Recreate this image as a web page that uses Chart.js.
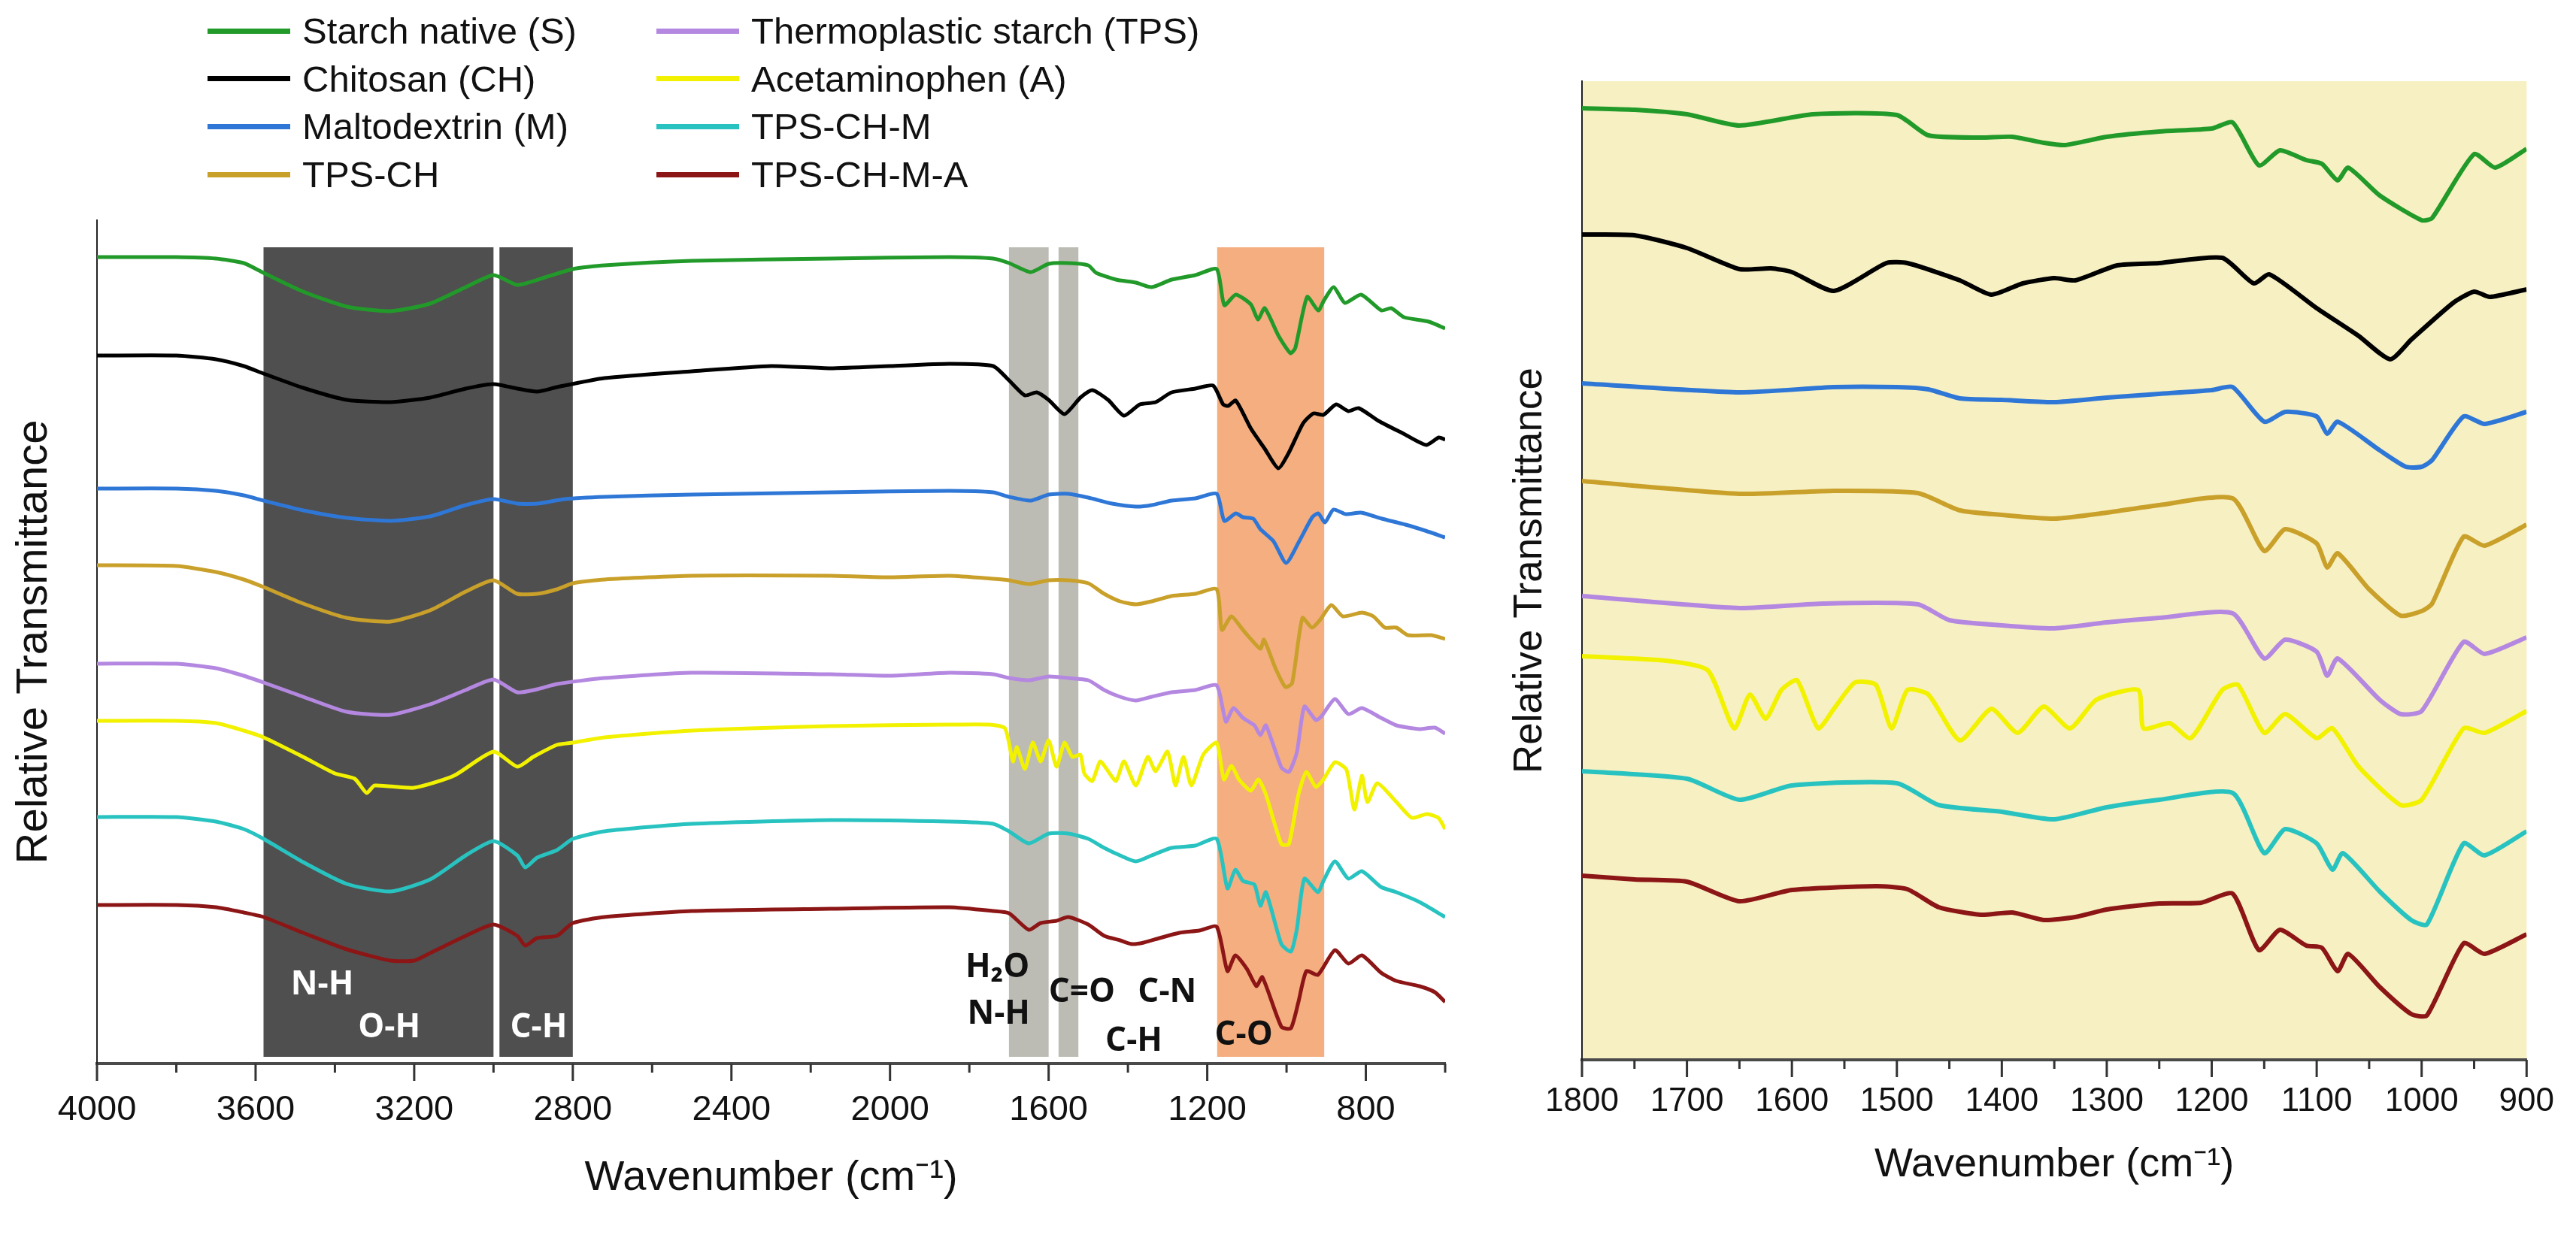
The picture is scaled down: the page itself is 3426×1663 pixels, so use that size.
<!DOCTYPE html>
<html>
<head>
<meta charset="utf-8">
<title>FTIR spectra</title>
<script src="https://cdn.jsdelivr.net/npm/chart.js@4.4.1/dist/chart.umd.min.js"></script>
<style>
  body { margin: 0; background: #fff; width: 3426px; height: 1663px; position: relative; overflow: hidden;
         font-family: "Liberation Sans", Arial, sans-serif; }
  #fullWrap { position: absolute; left: 0; top: 0; width: 1960px; height: 1663px; }
  #zoomWrap { position: absolute; left: 1960px; top: 0; width: 1466px; height: 1663px; }
  #legend { position: absolute; left: 0; top: 0; width: 1700px; height: 280px; }
  .item { position: absolute; height: 60px; display: flex; align-items: center; font-size: 49px; white-space: nowrap; color: #111; }
  .swatch { display: inline-block; width: 110px; height: 7px; margin-right: 16px; }
</style>
</head>
<body>
<div id="fullWrap"><canvas id="fullChart"></canvas></div>
<div id="zoomWrap"><canvas id="zoomChart"></canvas></div>
<div id="legend"></div>
<script>
// Series, in stacking order top -> bottom
const seriesNames = ['Starch native (S)', 'Chitosan (CH)', 'Maltodextrin (M)', 'TPS-CH',
  'Thermoplastic starch (TPS)', 'Acetaminophen (A)', 'TPS-CH-M', 'TPS-CH-M-A'];
const seriesColors = ['#229a2a', '#000000', '#2f77d6', '#c9a02a', '#b488e0', '#f2f200', '#28c3c0', '#8c1616'];

// Full range spectra [wavenumber, relative transmittance (offset)]
const fullS = [[4000,106.4],[3800,106.4],[3700,106.2],[3630,105.6],[3580,104.3],[3480,101.8],[3370,99.8],[3260,99.2],[3160,100.2],[3070,102.4],[3000,104.0],[2940,102.7],[2870,103.7],[2800,104.8],[2720,105.3],[2500,105.9],[2150,106.2],[1850,106.4],[1740,106.2],[1700,105.6],[1645,104.4],[1600,105.5],[1550,105.6],[1500,105.3],[1480,104.3],[1430,103.4],[1380,103.0],[1340,102.4],[1290,103.4],[1230,104.0],[1176,104.8],[1157,100.0],[1128,101.4],[1090,100.1],[1072,98.1],[1055,99.6],[1020,95.9],[990,93.6],[978,94.3],[948,101.1],[920,99.3],[906,100.6],[881,102.4],[853,100.3],[812,101.4],[761,99.3],[736,99.6],[704,98.4],[641,97.8],[600,96.9]];
const fullCH = [[4000,93.3],[3800,93.3],[3700,92.8],[3630,91.9],[3580,90.9],[3480,89.0],[3370,87.4],[3260,87.1],[3160,87.7],[3070,88.9],[3000,89.5],[2940,88.9],[2890,88.5],[2840,89.1],[2720,90.3],[2500,91.2],[2300,91.9],[2150,91.6],[2000,91.9],[1850,92.2],[1740,91.9],[1700,90.0],[1660,88.0],[1630,88.4],[1600,87.4],[1560,85.5],[1520,87.7],[1490,88.7],[1450,87.4],[1410,85.3],[1370,86.8],[1330,87.1],[1290,88.4],[1230,88.9],[1185,89.3],[1160,86.8],[1147,86.6],[1128,87.3],[1090,83.6],[1055,80.9],[1021,78.3],[995,80.3],[958,84.3],[932,85.6],[907,85.4],[875,86.8],[844,85.9],[818,86.3],[768,84.6],[705,82.9],[648,81.4],[616,82.4],[600,82.1]];
const fullM = [[4000,75.6],[3800,75.6],[3700,75.3],[3630,74.7],[3580,74.0],[3480,72.7],[3370,71.7],[3260,71.3],[3160,71.9],[3070,73.4],[3000,74.2],[2940,73.6],[2890,73.6],[2820,74.2],[2720,74.5],[2500,74.8],[2150,75.1],[1850,75.3],[1740,75.1],[1700,74.5],[1645,74.0],[1600,74.8],[1550,74.9],[1500,74.4],[1440,73.6],[1380,73.2],[1340,73.4],[1290,74.0],[1230,74.3],[1176,74.9],[1157,71.3],[1128,72.3],[1110,71.8],[1084,71.6],[1066,70.2],[1033,68.6],[1001,65.7],[968,68.6],[935,71.8],[920,72.3],[903,71.1],[882,72.8],[850,72.2],[812,72.4],[760,71.6],[700,70.8],[650,70.0],[600,69.1]];
const fullTC = [[4000,65.4],[3800,65.3],[3700,64.5],[3630,63.5],[3580,62.5],[3480,60.3],[3370,58.4],[3260,57.9],[3160,59.4],[3070,61.9],[3000,63.4],[2940,61.6],[2890,61.6],[2840,62.2],[2800,63.0],[2720,63.5],[2500,64.0],[2150,64.0],[2000,63.8],[1850,64.0],[1740,63.6],[1700,63.4],[1650,62.9],[1600,63.4],[1550,63.4],[1500,63.0],[1460,61.6],[1420,60.6],[1380,60.2],[1340,60.6],[1290,61.3],[1230,61.6],[1176,62.2],[1163,56.8],[1139,58.6],[1110,56.8],[1066,54.3],[1057,55.5],[1028,51.7],[1003,49.2],[986,49.7],[960,58.4],[936,57.1],[916,58.1],[887,60.1],[858,58.6],[810,59.1],[781,58.6],[752,57.1],[723,57.1],[694,56.1],[636,56.1],[600,55.6]];
const fullTPS = [[4000,52.3],[3800,52.3],[3700,51.7],[3630,50.7],[3580,49.8],[3480,47.9],[3370,45.9],[3260,45.5],[3160,46.9],[3070,48.8],[3000,50.2],[2940,48.5],[2890,48.9],[2840,49.6],[2720,50.4],[2500,51.1],[2150,50.9],[2000,50.7],[1850,51.1],[1740,50.9],[1700,50.4],[1650,50.1],[1600,50.6],[1550,50.4],[1500,50.1],[1460,48.8],[1420,47.9],[1380,47.4],[1340,47.9],[1290,48.5],[1230,48.8],[1176,49.4],[1153,44.6],[1134,46.4],[1110,45.1],[1081,44.1],[1066,42.8],[1052,44.1],[1013,38.5],[994,37.9],[974,40.5],[955,46.6],[926,44.8],[912,45.3],[878,47.6],[844,45.6],[810,46.4],[762,45.1],[723,44.1],[665,43.6],[626,43.8],[600,43.0]];
const fullA = [[4000,44.7],[3800,44.7],[3700,44.4],[3630,43.4],[3580,42.5],[3480,39.9],[3400,37.7],[3350,37.0],[3320,35.1],[3300,36.1],[3200,35.8],[3100,37.4],[3000,40.6],[2940,38.6],[2900,39.9],[2840,41.5],[2800,41.8],[2720,42.5],[2500,43.4],[2150,44.0],[1850,44.2],[1750,44.2],[1710,43.7],[1690,39.3],[1680,41.2],[1660,38.3],[1640,41.8],[1620,39.3],[1600,42.1],[1580,38.6],[1560,41.8],[1540,39.9],[1520,40.2],[1510,37.7],[1490,36.7],[1470,39.3],[1450,38.0],[1430,36.7],[1410,39.3],[1380,36.1],[1350,39.9],[1330,38.0],[1300,40.6],[1280,36.1],[1260,39.9],[1240,36.1],[1210,40.2],[1176,41.8],[1158,36.9],[1139,38.7],[1120,36.9],[1090,35.4],[1071,36.9],[1052,34.9],[1013,28.3],[994,28.3],[970,34.9],[950,37.9],[926,35.9],[907,36.9],[878,39.2],[849,38.2],[829,32.9],[810,37.4],[796,33.9],[771,36.4],[723,33.9],[684,31.8],[646,32.3],[617,31.8],[600,30.3]];
const fullTCM = [[4000,31.9],[3800,31.9],[3700,31.3],[3630,30.3],[3580,29.0],[3480,25.9],[3370,23.0],[3260,22.0],[3160,23.6],[3070,26.8],[3000,28.7],[2940,26.8],[2920,25.2],[2890,26.5],[2840,27.5],[2800,29.0],[2720,30.0],[2500,31.0],[2150,31.5],[1850,31.3],[1740,31.0],[1700,30.0],[1650,28.4],[1600,29.7],[1550,29.7],[1500,29.0],[1460,27.8],[1420,26.8],[1380,26.0],[1340,26.8],[1290,27.8],[1230,28.1],[1176,29.0],[1149,22.4],[1129,24.9],[1110,23.4],[1081,22.9],[1066,20.1],[1052,21.9],[1013,15.0],[989,14.0],[974,17.0],[955,23.7],[921,21.9],[907,23.4],[878,26.0],[844,23.7],[810,24.7],[762,22.6],[723,21.9],[665,20.6],[600,18.6]];
const fullTCMA = [[4000,20.2],[3800,20.2],[3700,19.9],[3630,19.2],[3580,18.6],[3480,16.5],[3370,14.3],[3260,12.8],[3200,12.8],[3160,13.8],[3070,16.1],[3000,17.6],[2940,16.1],[2920,14.8],[2890,15.8],[2840,16.1],[2800,17.8],[2720,18.6],[2500,19.4],[2150,19.7],[1850,19.9],[1740,19.4],[1700,19.1],[1650,16.9],[1620,17.8],[1580,18.1],[1550,18.6],[1500,17.6],[1460,16.1],[1420,15.5],[1390,15.0],[1360,15.2],[1320,15.8],[1270,16.5],[1220,16.8],[1176,17.3],[1149,11.4],[1129,13.5],[1100,11.7],[1076,9.4],[1061,10.6],[1013,4.0],[989,3.8],[970,7.3],[950,11.4],[921,10.9],[878,14.2],[844,12.4],[810,13.5],[762,11.2],[723,10.1],[665,9.4],[626,8.6],[600,7.3]];

// Fingerprint region 1800-900 cm-1
const zoomS = [[1800,125.9],[1750,125.7],[1700,125.1],[1650,123.6],[1580,125.1],[1500,125.0],[1470,122.3],[1420,122.0],[1390,122.1],[1360,121.3],[1340,121.0],[1300,122.1],[1250,122.8],[1200,123.2],[1180,124.0],[1155,118.3],[1135,120.3],[1110,119.0],[1095,118.5],[1080,116.3],[1070,118.0],[1040,114.3],[1000,111.0],[990,111.3],[950,119.8],[930,118.0],[900,120.5]];
const zoomCH = [[1800,109.1],[1750,109.0],[1700,107.3],[1650,104.5],[1620,104.6],[1600,104.1],[1560,101.6],[1510,105.3],[1490,105.3],[1440,103.0],[1410,101.1],[1380,102.6],[1350,103.3],[1330,103.0],[1290,105.0],[1250,105.3],[1190,106.0],[1160,102.6],[1145,103.8],[1100,99.3],[1060,95.6],[1030,92.5],[1010,95.1],[970,100.0],[950,101.5],[935,100.8],[900,101.8]];
const zoomM = [[1800,89.3],[1650,88.1],[1560,88.8],[1500,88.8],[1470,88.5],[1440,87.3],[1400,87.1],[1350,86.8],[1300,87.4],[1250,87.9],[1200,88.4],[1180,88.8],[1150,84.2],[1130,85.5],[1100,84.9],[1090,82.6],[1080,84.2],[1040,80.4],[1015,78.2],[1000,78.2],[990,79.1],[960,84.9],[940,83.9],[900,85.5]];
const zoomTC = [[1800,76.3],[1650,74.6],[1560,75.0],[1480,74.7],[1440,72.4],[1400,71.8],[1350,71.3],[1300,72.1],[1250,73.1],[1180,74.0],[1150,67.0],[1130,69.9],[1100,68.0],[1090,64.8],[1080,66.7],[1050,61.9],[1020,58.4],[1000,59.0],[990,60.0],[960,68.9],[940,67.7],[900,70.5]];
const zoomTPS = [[1800,61.0],[1650,59.4],[1570,60.0],[1480,59.9],[1450,57.8],[1400,57.1],[1350,56.7],[1300,57.5],[1250,58.1],[1180,58.7],[1150,52.7],[1130,55.2],[1100,53.6],[1090,50.4],[1080,52.7],[1040,47.2],[1020,45.3],[1000,45.7],[960,54.9],[940,53.3],[900,55.5]];
const zoomA = [[1800,53.0],[1720,52.4],[1680,51.1],[1655,43.4],[1640,47.9],[1625,44.7],[1610,48.5],[1595,49.8],[1575,43.4],[1560,46.0],[1540,49.5],[1520,49.2],[1505,43.4],[1490,48.5],[1470,47.9],[1440,41.8],[1410,46.0],[1385,42.8],[1360,46.3],[1335,43.4],[1310,47.2],[1270,48.5],[1265,43.4],[1240,44.1],[1220,42.1],[1190,48.5],[1175,49.2],[1150,42.8],[1130,45.3],[1100,42.1],[1085,43.4],[1060,38.3],[1020,33.2],[1000,33.9],[960,43.4],[940,42.8],[900,45.7]];
const zoomTCM = [[1800,37.7],[1700,36.7],[1650,33.9],[1600,35.8],[1500,36.1],[1460,33.2],[1400,32.3],[1350,31.3],[1300,32.9],[1250,33.9],[1180,34.8],[1150,26.8],[1130,30.0],[1100,28.1],[1085,24.6],[1075,26.8],[1040,21.7],[1010,17.9],[995,17.3],[960,28.1],[940,26.5],[900,29.7]];
const zoomTCMA = [[1800,23.8],[1750,23.3],[1700,23.0],[1650,20.4],[1600,21.9],[1520,22.4],[1490,22.0],[1460,19.6],[1420,18.6],[1390,18.9],[1360,17.9],[1330,18.3],[1300,19.3],[1250,20.1],[1210,20.2],[1180,21.4],[1155,13.9],[1135,16.6],[1110,14.5],[1095,14.2],[1080,11.1],[1070,13.4],[1040,9.0],[1010,5.4],[995,5.2],[960,14.8],[940,13.4],[900,16.0]];

// Assignment bands (cm-1) and labels
const bandRanges = [[3580, 3000], [2985, 2800], [1700, 1600], [1575, 1525], [1175, 905]];
const bandKinds = ['dark', 'dark', 'grey', 'grey', 'orange'];
const bandLabels = ['N-H', 'O-H', 'C-H', 'H\u2082O', 'N-H', 'C=O', 'C-N', 'C-H', 'C-O'];
const bandLabelAt = [[3432, 9.6], [3263, 3.9], [2886, 3.9], [1729, 11.9], [1726, 5.7], [1516, 8.6], [1301, 8.6], [1385, 2.1], [1108, 2.9]];

const fullSeries = [fullS, fullCH, fullM, fullTC, fullTPS, fullA, fullTCM, fullTCMA];
const zoomSeries = [zoomS, zoomCH, zoomM, zoomTC, zoomTPS, zoomA, zoomTCM, zoomTCMA];

Chart.defaults.font.family = '"Liberation Sans", Arial, sans-serif';
Chart.defaults.color = '#111';

// legend (two columns, as in the figure)
const legendBox = document.getElementById('legend');
seriesNames.forEach((name, i) => {
  const col = Math.floor(i / 4), row = i % 4;
  const item = document.createElement('div');
  item.className = 'item';
  item.style.left = (276 + col * 597) + 'px';
  item.style.top = (11 + row * 63.7) + 'px';
  item.innerHTML = '<span class="swatch" style="background:' + seriesColors[i] + '"></span><span>' + name + '</span>';
  legendBox.appendChild(item);
});

const bandColors = { dark: '#4f4f4f', grey: '#bdbcb4', orange: '#f4ae80' };
const labelColors = ['#fff', '#fff', '#fff', '#111', '#111', '#111', '#111', '#111', '#111'];

const spectraDecor = {
  id: 'spectraDecor',
  beforeDraw(chart, args, opts) {
    if (!opts.plotBg) return;
    const a = chart.chartArea, ctx = chart.ctx;
    ctx.save();
    ctx.fillStyle = opts.plotBg;
    ctx.fillRect(a.left, a.top, a.right - a.left, a.bottom - a.top);
    ctx.restore();
  },
  beforeDatasetsDraw(chart, args, opts) {
    if (!opts.bands) return;
    const x = chart.scales.x, y = chart.scales.y, ctx = chart.ctx;
    ctx.save();
    opts.bands.forEach((b, i) => {
      const x0 = x.getPixelForValue(b[0]), x1 = x.getPixelForValue(b[1]);
      const y0 = y.getPixelForValue(opts.bandTop), y1 = y.getPixelForValue(0);
      ctx.fillStyle = bandColors[opts.kinds[i]];
      ctx.fillRect(Math.min(x0, x1), y0, Math.abs(x1 - x0), y1 - y0);
    });
    ctx.restore();
  },
  afterDatasetsDraw(chart, args, opts) {
    if (!opts.labels) return;
    const x = chart.scales.x, y = chart.scales.y, ctx = chart.ctx;
    ctx.save();
    ctx.font = 'bold 44px "Open Sans", "DejaVu Sans", sans-serif';
    ctx.textAlign = 'center';
    ctx.textBaseline = 'middle';
    opts.labels.forEach((t, i) => {
      ctx.fillStyle = labelColors[i];
      ctx.fillText(t, x.getPixelForValue(opts.labelAt[i][0]), y.getPixelForValue(opts.labelAt[i][1]));
    });
    ctx.restore();
  },
  afterDraw(chart, args, opts) {
    // major / minor tick marks below the x axis
    const x = chart.scales.x, ctx = chart.ctx, base = chart.chartArea.bottom;
    ctx.save();
    ctx.strokeStyle = '#333';
    ctx.lineWidth = 3;
    x.ticks.forEach(t => {
      const px = x.getPixelForValue(t.value);
      const len = t.value % opts.majorStep === 0 ? 23 : 12;
      ctx.beginPath();
      ctx.moveTo(px, base);
      ctx.lineTo(px, base + len);
      ctx.stroke();
    });
    ctx.restore();
  }
};

function makeSpectraChart(id, series, cfg) {
  return new Chart(document.getElementById(id), {
    type: 'line',
    data: {
      datasets: series.map((pts, i) => ({
        label: seriesNames[i],
        data: pts.map(p => ({ x: p[0], y: p[1] })),
        borderColor: seriesColors[i],
        borderWidth: cfg.lineWidth,
        pointRadius: 0,
        tension: 0.2,
        fill: false
      }))
    },
    plugins: [spectraDecor],
    options: {
      responsive: true,
      maintainAspectRatio: false,
      animation: false,
      layout: { padding: cfg.padding },
      plugins: {
        legend: { display: false },
        tooltip: { enabled: false },
        spectraDecor: cfg.decor
      },
      scales: {
        x: {
          type: 'linear',
          reverse: true,
          min: cfg.xMin,
          max: cfg.xMax,
          afterFit: s => { s.height = cfg.xHeight; },
          grid: { display: false, drawTicks: false },
          border: { display: true, color: '#4a4a4a', width: 4 },
          ticks: {
            stepSize: cfg.minorStep,
            autoSkip: false,
            maxRotation: 0,
            padding: cfg.tickPad,
            font: { size: cfg.tickSize },
            color: '#111',
            callback: v => (v % cfg.decor.majorStep === 0 ? v : '')
          },
          title: {
            display: true,
            text: 'Wavenumber (cm\u207B\u00B9)',
            font: { size: cfg.xTitleSize },
            color: '#111',
            padding: { top: 0, bottom: cfg.xTitlePad }
          }
        },
        y: {
          min: cfg.yMin,
          max: cfg.yMax,
          afterFit: s => { s.width = cfg.yWidth; },
          grid: { display: false, drawTicks: false },
          border: { display: true, color: '#222', width: 2 },
          ticks: { display: false },
          title: {
            display: true,
            text: 'Relative Transmittance',
            font: { size: cfg.yTitleSize },
            color: '#111',
            padding: { top: cfg.yTitlePad, bottom: 0 }
          }
        }
      }
    }
  });
}

makeSpectraChart('fullChart', fullSeries, {
  lineWidth: 5,
  padding: { top: 293, right: 38, left: 0, bottom: 0 },
  xMin: 600, xMax: 4000, minorStep: 200,
  xHeight: 248, yWidth: 129,
  yMin: -0.9, yMax: 111.3,
  tickPad: 34, tickSize: 47,
  xTitleSize: 56, xTitlePad: 62,
  yTitleSize: 58, yTitlePad: 11,
  decor: {
    majorStep: 400,
    bands: bandRanges, kinds: bandKinds, bandTop: 107.7,
    labels: bandLabels, labelAt: bandLabelAt
  }
});

makeSpectraChart('zoomChart', zoomSeries, {
  lineWidth: 6,
  padding: { top: 108, right: 64, left: 0, bottom: 0 },
  xMin: 900, xMax: 1800, minorStep: 50,
  xHeight: 253, yWidth: 144,
  yMin: -0.7, yMax: 129.5,
  tickPad: 29, tickSize: 44,
  xTitleSize: 54, xTitlePad: 80,
  yTitleSize: 53, yTitlePad: 44,
  decor: { majorStep: 100, plotBg: '#f7f0c2' }
});
</script>
</body>
</html>
